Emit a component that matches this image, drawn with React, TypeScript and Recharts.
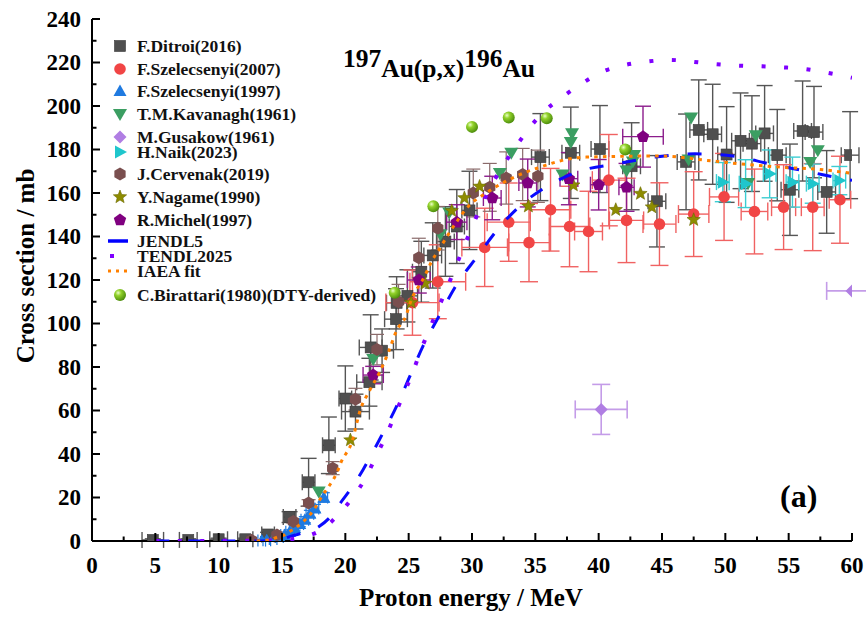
import React from "react";
import { ErrorBar, Legend, Scatter, ScatterChart, XAxis, YAxis } from "recharts";

const FONT = '"Liberation Serif", "Times New Roman", Times, serif';

// rows: [energy (MeV), cross section (mb), dE, dSigma]
type Row = number[];

const ditroi: Row[] = [
  [4.8, 0.5, 0.85, 0.5],
  [7.6, 0.5, 0.7, 0.5],
  [10.0, 0.8, 0.7, 0.5],
  [12.1, 0.8, 0.6, 0.5],
  [13.9, 3, 0.5, 1],
  [15.6, 11, 0.5, 2.5],
  [17.1, 27, 0.5, 11],
  [18.7, 44, 0.5, 13],
  [20.0, 65.5, 0.5, 15],
  [20.8, 59.5, 1.1, 8],
  [21.9, 73, 1.0, 11],
  [22.0, 89, 0.9, 15],
  [22.9, 87.5, 0.9, 10],
  [24.0, 102, 0.9, 14],
  [24.05, 109.5, 0.8, 12],
  [24.9, 112.7, 0.8, 12],
  [26.0, 123.8, 0.7, 14],
  [26.9, 131.3, 0.7, 15],
  [27.9, 137.7, 0.7, 16],
  [28.8, 144.6, 0.6, 17],
  [29.8, 152, 0.6, 18],
  [35.4, 176.5, 0.7, 20],
  [37.8, 178.5, 0.7, 21],
  [40.1, 180.2, 0.7, 20],
  [42.6, 172.3, 0.7, 20],
  [44.6, 156.2, 0.7, 21],
  [46.9, 174.3, 0.7, 22],
  [47.9, 189, 0.7, 23],
  [49.0, 187, 0.7, 23],
  [50.1, 177.7, 0.7, 22],
  [51.2, 184, 0.7, 22],
  [52.1, 182.7, 0.7, 22],
  [53.1, 187.4, 0.7, 22],
  [54.1, 177.4, 0.7, 21],
  [55.1, 161.5, 0.7, 21],
  [56.1, 188.5, 0.7, 23],
  [57.0, 188, 0.7, 21],
  [58.0, 160.5, 0.7, 19],
  [59.85, 177.4, 0.7, 20],
];

const szel2007: Row[] = [
  [25.3, 109.6, 2.1, 15],
  [27.3, 119.2, 2.2, 17],
  [31.0, 135, 1.8, 18],
  [32.9, 146.6, 1.7, 18],
  [34.5, 137.2, 1.6, 18],
  [36.2, 152.3, 1.6, 19],
  [37.7, 144.6, 1.6, 18.5],
  [39.2, 142.3, 1.1, 18.5],
  [40.8, 165.9, 1.3, 21],
  [42.2, 147.4, 1.35, 19.4],
  [44.8, 145.7, 1.3, 19],
  [47.5, 150.3, 1.2, 19.5],
  [49.9, 158.2, 1.15, 20],
  [52.3, 151.5, 1.05, 19.5],
  [54.6, 153.5, 0.95, 19.5],
  [56.9, 153.5, 0.9, 20],
  [59.05, 156.9, 0.85, 20],
];

const szel1997: Row[] = [
  [13.4, 0.2, 0.3, 0.3],
  [13.8, 0.4, 0.3, 0.3],
  [14.3, 0.9, 0.3, 0.4],
  [14.8, 1.8, 0.3, 0.5],
  [15.2, 2.8, 0.3, 0.6],
  [15.6, 4.3, 0.3, 0.8],
  [16.0, 6, 0.3, 1],
  [16.4, 7.8, 0.3, 1.2],
  [16.8, 9.8, 0.3, 1.4],
  [17.2, 12.5, 0.3, 1.6],
  [17.6, 15, 0.3, 1.8],
  [18.3, 20, 0.3, 2.2],
];

const kavanagh: Row[] = [
  [17.9, 22.8],
  [22.2, 83.7],
  [27.5, 141],
  [28.2, 151],
  [32.2, 169.2],
  [33.1, 178.5],
  [37.15, 168.5],
  [37.8, 183.5],
  [37.9, 187.5],
  [42.2, 170.3],
  [42.7, 174.5],
  [42.8, 177.5],
  [47.1, 175.4],
  [47.3, 194.7],
  [51.8, 164.6],
  [52.4, 186.5],
  [56.7, 174.3],
  [57.3, 179.7],
];

const gusakow: Row[] = [
  [40.2, 60.5, 2.05, 11.5],
  [60.0, 115, 2.0, 0],
];

const naik: Row[] = [
  [49.8, 165, 0.5, 9],
  [51.6, 164.3, 0.5, 11],
  [53.5, 168.8, 0.5, 11],
  [55.3, 165, 0.5, 11.5],
  [56.9, 164.3, 0.5, 9],
  [59.0, 165.7, 0.5, 6.5],
];

const cervenak: Row[] = [
  [12.6, 0.3, 0.3, 0.2],
  [14.6, 2.8, 0.3, 0.4],
  [15.9, 9, 0.3, 0.8],
  [17.1, 17.5, 0.3, 1.5],
  [19.0, 33.5, 0.3, 3],
  [20.8, 65.2, 0.3, 5],
  [22.5, 88, 0.3, 7],
  [24.2, 110, 0.3, 8],
  [25.8, 130.2, 0.3, 9],
  [27.3, 143.8, 0.3, 10],
  [30.1, 160, 0.3, 11],
  [31.4, 162.6, 0.3, 11],
  [32.7, 166.9, 0.3, 12],
  [34.0, 168.5, 0.3, 12],
  [35.2, 167.7, 0.3, 12],
];

const nagame: Row[] = [
  [20.4, 46.4],
  [25.2, 109.6],
  [26.3, 118.4],
  [28.4, 151.8],
  [29.4, 157.7],
  [30.6, 163],
  [34.45, 153.9],
  [38.0, 163.6],
  [41.35, 152.3],
  [43.3, 159.7],
  [44.2, 153.5],
  [47.5, 147.7],
];

const michel: Row[] = [
  [22.2, 76.3, 0.8, 4],
  [25.8, 120, 0.9, 6],
  [28.8, 146.6, 0.8, 8],
  [31.6, 157.7, 0.7, 10],
  [34.4, 164.6, 0.7, 11],
  [37.65, 166.6, 0.7, 12],
  [40.0, 163.8, 0.65, 11.6],
  [42.2, 162.6, 0.6, 11],
  [43.5, 185.9, 1.6, 14],
];

const birattari: Row[] = [
  [23.9, 114.1],
  [26.95, 153.9],
  [30.0, 190.4],
  [32.9, 194.7],
  [35.9, 194.4],
  [42.1, 180],
];

const jendl5: Row[] = [
  [5, 0], [13, 0], [14, 0.1], [15, 0.8], [15.6, 2], [16.5, 3.5], [17.9, 6.6],
  [18.8, 11], [19.6, 17.4], [20.5, 24.5], [21.4, 32.8], [22.7, 46.7], [24.05, 62],
  [25, 74.5], [26.15, 89.8], [27.5, 104.5], [28.8, 118], [30.4, 130.7], [32.1, 143.8],
  [33.9, 154.6], [36.4, 164.6], [38.6, 170.2], [41.4, 173.4], [44.45, 176.5],
  [47.6, 178], [50.6, 177], [53.5, 173.4], [56.4, 170], [59.6, 166.2], [60, 165.8],
];

const tendl2025: Row[] = [
  [5, 0], [14, 0.2], [15, 0.5], [16.6, 1.7], [18.1, 5.1], [19.4, 11.8], [20.6, 20.2],
  [21.6, 29], [22.4, 38.7], [23.2, 48.2], [23.9, 57.9], [24.6, 67.5], [25.3, 77.2],
  [25.9, 86.8], [26.6, 96.8], [27.3, 106.5], [28.0, 116], [28.7, 126], [29.4, 135.8],
  [30.05, 145], [30.8, 155], [31.6, 164.2], [32.5, 173.1], [33.5, 181.6], [34.5, 189.7],
  [35.7, 197.5], [37.1, 204], [38.7, 210.4], [40.2, 215.5], [41.9, 218.6], [43.8, 220.4],
  [45.6, 221.2], [47.3, 220.4], [49.1, 219.3], [50.9, 218.6], [52.7, 218.3], [54.5, 217.8],
  [56.3, 217], [58.1, 215.2], [60, 213],
];

const iaeaFit: Row[] = [
  [13, 0], [14, 0.5], [14.7, 2], [15.2, 2.8], [15.6, 4.3], [16.2, 6.6], [16.7, 9],
  [17.2, 12], [17.6, 15.1], [18.2, 21], [18.7, 25.1], [19.3, 31], [19.7, 36.7],
  [20.5, 45.2], [21.2, 60.6], [21.9, 69], [22.7, 77.5], [23.4, 86.8], [24.05, 96.8],
  [24.8, 103.7], [25.1, 109.1], [26.3, 122.2], [26.8, 128.4], [27.5, 134.9],
  [28.1, 140.7], [28.9, 147.7], [29.7, 153.8], [30.9, 159.2], [32.2, 163.9],
  [34.3, 169.7], [35.4, 171.9], [36.9, 174.7], [39, 176.5], [44.8, 177], [49, 174.7],
  [51.7, 173.1], [54.3, 171.9], [57.5, 170.8], [60, 169],
];

const xTicks = [0, 2.5, 5, 7.5, 10, 12.5, 15, 17.5, 20, 22.5, 25, 27.5, 30, 32.5, 35, 37.5, 40, 42.5, 45, 47.5, 50, 52.5, 55, 57.5, 60];
const yTicks = [0, 10, 20, 30, 40, 50, 60, 70, 80, 90, 100, 110, 120, 130, 140, 150, 160, 170, 180, 190, 200, 210, 220, 230, 240];

const legendNames = [
  "F.Ditroi(2016)",
  "F.Szelecsenyi(2007)",
  "F.Szelecsenyi(1997)",
  "T.M.Kavanagh(1961)",
  "M.Gusakow(1961)",
  "H.Naik(2023)",
  "J.Cervenak(2019)",
  "Y.Nagame(1990)",
  "R.Michel(1997)",
  "JENDL5",
  "TENDL2025",
  "IAEA fit",
  "C.Birattari(1980)(DTY-derived)",
];
const legendRowY = [46, 69, 91, 114, 137, 152, 174, 197, 220, 241, 256, 271, 295];

const pts = (rows: Row[]) => rows.map(([x, y, ex = 0, ey = 0]) => ({ x, y, ex, ey }));
const curve = (rows: Row[]) => rows.map(([x, y]) => ({ x, y }));

const polyPts = (cx: number, cy: number, n: number, r: number, rot = -90) =>
  Array.from({ length: n }, (_, i) => {
    const a = ((rot + (360 / n) * i) * Math.PI) / 180;
    return `${cx + r * Math.cos(a)},${cy + r * Math.sin(a)}`;
  }).join(" ");

const starPts = (cx: number, cy: number, ro: number, ri: number) =>
  Array.from({ length: 10 }, (_, i) => {
    const a = ((-90 + 36 * i) * Math.PI) / 180;
    const r = i % 2 === 0 ? ro : ri;
    return `${cx + r * Math.cos(a)},${cy + r * Math.sin(a)}`;
  }).join(" ");

type SP = { cx?: number; cy?: number };

const SquareDot = ({ cx = 0, cy = 0 }: SP) => (
  <rect x={cx - 5.5} y={cy - 5.5} width={11} height={11} fill="#4f4f4f" stroke="#3a3a3a" strokeWidth={0.6} />
);
const CircleDot = ({ cx = 0, cy = 0 }: SP) => <circle cx={cx} cy={cy} r={5.8} fill="#f14545" />;
const UpTri = ({ cx = 0, cy = 0 }: SP) => (
  <polygon points={`${cx},${cy - 6.5} ${cx - 6.5},${cy + 5} ${cx + 6.5},${cy + 5}`} fill="#1f7ae0" />
);
const DownTri = ({ cx = 0, cy = 0 }: SP) => (
  <polygon points={`${cx - 7},${cy - 5} ${cx + 7},${cy - 5} ${cx},${cy + 7}`} fill="#3b9e62" />
);
const Diamond = ({ cx = 0, cy = 0 }: SP) => (
  <polygon points={`${cx},${cy - 6.5} ${cx + 6.5},${cy} ${cx},${cy + 6.5} ${cx - 6.5},${cy}`} fill="#b07ee3" />
);
const RightTri = ({ cx = 0, cy = 0 }: SP) => (
  <polygon points={`${cx - 5},${cy - 6.5} ${cx + 7},${cy} ${cx - 5},${cy + 6.5}`} fill="#1fc6cc" />
);
const Hexagon = ({ cx = 0, cy = 0 }: SP) => <polygon points={polyPts(cx, cy, 6, 6.5)} fill="#7a4f4f" />;
const Star = ({ cx = 0, cy = 0 }: SP) => (
  <polygon points={starPts(cx, cy, 7, 3)} fill="#8e8c00" stroke="#6c6a00" strokeWidth={0.6} />
);
const Pentagon = ({ cx = 0, cy = 0 }: SP) => <polygon points={polyPts(cx, cy, 5, 6.5)} fill="#800080" />;
const Sphere = ({ cx = 0, cy = 0 }: SP) => (
  <g>
    <defs>
      <radialGradient id="sph" cx="35%" cy="32%" r="70%">
        <stop offset="0%" stopColor="#eaffc8" />
        <stop offset="35%" stopColor="#92d22a" />
        <stop offset="100%" stopColor="#4c8c0c" />
      </radialGradient>
    </defs>
    <circle cx={cx} cy={cy} r={6} fill="url(#sph)" />
  </g>
);
const NoDot = () => <g />;

const markers = [SquareDot, CircleDot, UpTri, DownTri, Diamond, RightTri, Hexagon, Star, Pentagon];

function LegendBox() {
  const ox = 100;
  const oy = 30;
  return (
    <svg width={330} height={280} style={{ display: "block", overflow: "visible" }}>
      {legendNames.map((name, i) => {
        const y = legendRowY[i] - oy;
        const sx = 120 - ox;
        let sym: React.ReactNode = null;
        if (i < markers.length) {
          const M = markers[i];
          sym = <M cx={sx} cy={y} />;
        } else if (i === 9) {
          sym = <line x1={sx - 12} x2={sx + 8} y1={y} y2={y} stroke="#0000ff" strokeWidth={3.5} />;
        } else if (i === 10) {
          sym = <rect x={sx - 10} y={y - 2} width={4} height={4} fill="#7f00ff" />;
        } else if (i === 11) {
          sym = <line x1={sx - 12} x2={sx + 8} y1={y} y2={y} stroke="#ff8000" strokeWidth={3} strokeDasharray="3 5" />;
        } else {
          sym = <Sphere cx={sx} cy={y} />;
        }
        return (
          <g key={name}>
            {sym}
            <text x={137 - ox} y={y} dy={6} fontFamily={FONT} fontWeight="bold" fontSize={17.5} fill="#111">
              {name}
            </text>
          </g>
        );
      })}
    </svg>
  );
}

function BottomTick(p: any) {
  const v = p.payload.value;
  const major = v % 5 === 0;
  return (
    <g>
      <line x1={p.x} x2={p.x} y1={p.y} y2={p.y - (major ? 8 : 4.5)} stroke="#000" strokeWidth={2} />
      {major && (
        <text x={p.x} y={p.y + 32} textAnchor="middle" fontFamily={FONT} fontWeight="bold" fontSize={23} fill="#000">
          {v}
        </text>
      )}
    </g>
  );
}

function TopTick(p: any) {
  const major = p.payload.value % 5 === 0;
  return <line x1={p.x} x2={p.x} y1={p.y} y2={p.y + (major ? 7 : 4.5)} stroke="#000" strokeWidth={2} />;
}

function LeftTick(p: any) {
  const v = p.payload.value;
  const major = v % 20 === 0;
  return (
    <g>
      <line x1={p.x} x2={p.x + (major ? 8 : 4.5)} y1={p.y} y2={p.y} stroke="#000" strokeWidth={2} />
      {major && (
        <text x={p.x - 11} y={p.y + 7.5} textAnchor="end" fontFamily={FONT} fontWeight="bold" fontSize={23} fill="#000">
          {v}
        </text>
      )}
    </g>
  );
}

function RightTick(p: any) {
  const major = p.payload.value % 20 === 0;
  return <line x1={p.x} x2={p.x - (major ? 8 : 4.5)} y1={p.y} y2={p.y} stroke="#000" strokeWidth={2} />;
}

const XTitle = () => (
  <text x={471} y={606} textAnchor="middle" fontFamily={FONT} fontWeight="bold" fontSize={25} fill="#000">
    Proton energy / MeV
  </text>
);
const YTitle = () => (
  <text
    x={25}
    y={266}
    transform="rotate(-90 25 266)"
    textAnchor="middle"
    dominantBaseline="central"
    fontFamily={FONT}
    fontWeight="bold"
    fontSize={25}
    fill="#000"
  >
    Cross section / mb
  </text>
);

const axisLine = { stroke: "#000", strokeWidth: 2 };

export default function App() {
  return (
    <div style={{ position: "absolute", left: 0, top: 0, width: 866, height: 617, background: "#fff" }}>
      <ScatterChart width={866} height={617} margin={{ top: 19, right: 14, bottom: 0, left: 0 }}>
        <XAxis
          type="number"
          dataKey="x"
          domain={[0, 60]}
          ticks={xTicks}
          interval={0}
          allowDataOverflow
          height={76}
          tickSize={0}
          tickMargin={0}
          tick={<BottomTick />}
          axisLine={axisLine}
          label={<XTitle />}
        />
        <XAxis
          xAxisId="top"
          orientation="top"
          type="number"
          dataKey="x"
          domain={[0, 60]}
          ticks={xTicks}
          interval={0}
          allowDataOverflow
          height={0}
          tickSize={0}
          tickMargin={0}
          tick={<TopTick />}
          axisLine={axisLine}
        />
        <YAxis
          type="number"
          dataKey="y"
          domain={[0, 240]}
          ticks={yTicks}
          interval={0}
          allowDataOverflow
          width={92}
          tickSize={0}
          tickMargin={0}
          tick={<LeftTick />}
          axisLine={axisLine}
          label={<YTitle />}
        />
        <YAxis
          yAxisId="right"
          orientation="right"
          type="number"
          dataKey="y"
          domain={[0, 240]}
          ticks={yTicks}
          interval={0}
          allowDataOverflow
          width={0}
          tickSize={0}
          tickMargin={0}
          tick={<RightTick />}
          axisLine={axisLine}
        />

        <Scatter name="F.Ditroi(2016)" data={pts(ditroi)} shape={SquareDot} isAnimationActive={false}>
          <ErrorBar dataKey="ey" direction="y" width={8} stroke="#555" strokeWidth={1.4} />
          <ErrorBar dataKey="ex" direction="x" width={8} stroke="#555" strokeWidth={1.4} />
        </Scatter>
        <Scatter name="F.Szelecsenyi(2007)" data={pts(szel2007)} shape={CircleDot} isAnimationActive={false}>
          <ErrorBar dataKey="ey" direction="y" width={9} stroke="#f06262" strokeWidth={1.4} />
          <ErrorBar dataKey="ex" direction="x" width={9} stroke="#f06262" strokeWidth={1.4} />
        </Scatter>
        <Scatter name="F.Szelecsenyi(1997)" data={pts(szel1997)} shape={UpTri} isAnimationActive={false}>
          <ErrorBar dataKey="ey" direction="y" width={6} stroke="#1f7ae0" strokeWidth={1.2} />
          <ErrorBar dataKey="ex" direction="x" width={6} stroke="#1f7ae0" strokeWidth={1.2} />
        </Scatter>
        <Scatter name="T.M.Kavanagh(1961)" data={pts(kavanagh)} shape={DownTri} isAnimationActive={false} />
        <Scatter name="M.Gusakow(1961)" data={pts(gusakow)} shape={Diamond} isAnimationActive={false}>
          <ErrorBar dataKey="ey" direction="y" width={9} stroke="#c49ce8" strokeWidth={1.6} />
          <ErrorBar dataKey="ex" direction="x" width={9} stroke="#c49ce8" strokeWidth={1.6} />
        </Scatter>
        <Scatter name="H.Naik(2023)" data={pts(naik)} shape={RightTri} isAnimationActive={false}>
          <ErrorBar dataKey="ey" direction="y" width={8} stroke="#3ccdd2" strokeWidth={1.4} />
          <ErrorBar dataKey="ex" direction="x" width={8} stroke="#3ccdd2" strokeWidth={1.4} />
        </Scatter>
        <Scatter name="J.Cervenak(2019)" data={pts(cervenak)} shape={Hexagon} isAnimationActive={false}>
          <ErrorBar dataKey="ey" direction="y" width={7} stroke="#8a6a6a" strokeWidth={1.2} />
        </Scatter>
        <Scatter name="Y.Nagame(1990)" data={pts(nagame)} shape={Star} isAnimationActive={false} />
        <Scatter name="R.Michel(1997)" data={pts(michel)} shape={Pentagon} isAnimationActive={false}>
          <ErrorBar dataKey="ey" direction="y" width={8} stroke="#8c1c8c" strokeWidth={1.4} />
          <ErrorBar dataKey="ex" direction="x" width={8} stroke="#8c1c8c" strokeWidth={1.4} />
        </Scatter>

        <Scatter
          name="JENDL5"
          data={curve(jendl5)}
          shape={NoDot}
          line={{ stroke: "#0a0aff", strokeWidth: 3, strokeDasharray: "14 19" }}
          lineJointType="monotoneX"
          isAnimationActive={false}
        />
        <Scatter
          name="TENDL2025"
          data={curve(tendl2025)}
          shape={NoDot}
          line={{ stroke: "#7f00ff", strokeWidth: 4, strokeDasharray: "4 18.5" }}
          lineJointType="monotoneX"
          isAnimationActive={false}
        />
        <Scatter
          name="IAEA fit"
          data={curve(iaeaFit)}
          shape={NoDot}
          line={{ stroke: "#ff8000", strokeWidth: 3, strokeDasharray: "3.5 5.2" }}
          lineJointType="monotoneX"
          isAnimationActive={false}
        />
        <Scatter name="C.Birattari(1980)(DTY-derived)" data={pts(birattari)} shape={Sphere} isAnimationActive={false} />

        <Legend
          layout="horizontal"
          verticalAlign="middle"
          align="center"
          content={<LegendBox />}
          wrapperStyle={{ position: "absolute", left: 100, top: 30, width: 330, height: 280, pointerEvents: "none" }}
        />
      </ScatterChart>
      <svg
        width={866}
        height={617}
        style={{ position: "absolute", left: 0, top: 0, pointerEvents: "none" }}
      >
        <text x={343} y={77} fontFamily={FONT} fontWeight="bold" fontSize={25.5} fill="#000">
          <tspan dy={-10}>197</tspan>
          <tspan dy={10}>Au(p,x)</tspan>
          <tspan dy={-10}>196</tspan>
          <tspan dy={10}>Au</tspan>
        </text>
        <text x={780} y={507} fontFamily={FONT} fontWeight="bold" fontSize={32} fill="#000">
          (a)
        </text>
      </svg>
    </div>
  );
}
